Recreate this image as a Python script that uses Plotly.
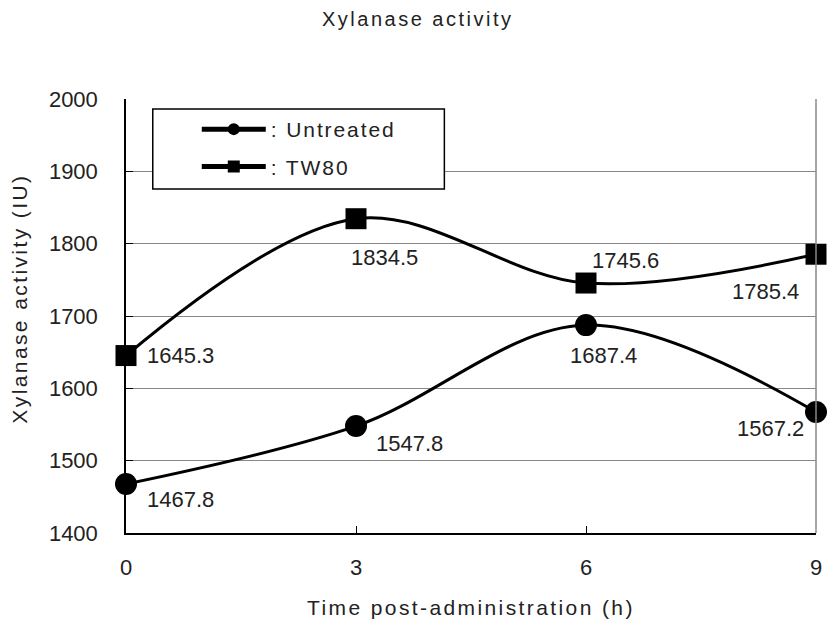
import plotly.graph_objects as go

time_h = [0, 3, 6, 9]
untreated = [1467.8, 1547.8, 1687.4, 1567.2]
tw80 = [1645.3, 1834.5, 1745.6, 1785.4]
y_ticks = [1400, 1500, 1600, 1700, 1800, 1900, 2000]

FONT = "Liberation Sans, Arial, sans-serif"
TXT = "#222222"

def spaced(s, px):
    return f'<span style="letter-spacing:{px}px">{s}</span>'

fig = go.Figure()
fig.add_trace(go.Scatter(
    x=time_h, y=untreated, name=spaced(": Untreated", 1.9), mode="lines+markers",
    legendgroup="u",
    line=dict(color="black", width=3, shape="spline", smoothing=1),
    marker=dict(symbol="circle", size=22, color="black"),
    cliponaxis=False,
))
fig.add_trace(go.Scatter(
    x=time_h, y=tw80, name=spaced(": TW80", 1.9), mode="lines+markers",
    legendgroup="t",
    line=dict(color="black", width=3, shape="spline", smoothing=1),
    marker=dict(symbol="square", size=21, color="black"),
    cliponaxis=False,
))

# label placement (xanchor, xshift, yshift) - all vertically centred
u_pos = [("left", 19, -16), ("left", 18, -17), ("center", 17, -30), ("right", -10, -16)]
t_pos = [("left", 19, 0), ("left", -7, -39), ("left", 4, 23), ("right", -15, -37)]
for series, pos in ((untreated, u_pos), (tw80, t_pos)):
    for x, y, (xa, xs, ys) in zip(time_h, series, pos):
        fig.add_annotation(x=x, y=y, text=f"{y:.1f}", showarrow=False,
                           xanchor=xa, yanchor="middle", xshift=xs, yshift=ys,
                           font=dict(size=22, color=TXT, family=FONT))

# axis titles
fig.add_annotation(xref="paper", yref="paper", x=0.5, y=0, yshift=-74,
                   xanchor="center", yanchor="middle", showarrow=False,
                   text=spaced("Time post-administration (h)", 2.4),
                   font=dict(size=21, color=TXT, family=FONT))
fig.add_annotation(xref="paper", yref="paper", x=0, xshift=-106, y=0.54,
                   xanchor="center", yanchor="middle", showarrow=False, textangle=-90,
                   text=spaced("Xylanase activity (IU)", 2.4),
                   font=dict(size=21, color=TXT, family=FONT))

# gray right border
fig.add_shape(type="line", xref="paper", yref="paper", x0=1, x1=1, y0=0, y1=1,
              line=dict(color="#888", width=1.5))
# legend box
fig.add_shape(type="rect", xref="paper", yref="paper", x0=0.0388, x1=0.4614, y0=0.7926, y1=0.977,
              line=dict(color="black", width=1.5), fillcolor="white", layer="above")

fig.update_layout(
    width=830, height=622,
    margin=dict(l=126, r=8, t=99, b=89),
    paper_bgcolor="white", plot_bgcolor="white",
    font=dict(family=FONT, color=TXT, size=22),
    title=dict(text=spaced("Xylanase activity", 2.5), x=322 / 830, xref="container", xanchor="left",
               y=0.969, yanchor="middle", font=dict(size=20, family=FONT, color=TXT)),
    showlegend=True,
    legend=dict(x=0.0388, y=0.977, xanchor="left", yanchor="top",
                bgcolor="rgba(0,0,0,0)", borderwidth=0, itemsizing="constant",
                font=dict(size=21, family=FONT, color=TXT), itemwidth=64,
                indentation=44, tracegroupgap=7),
    xaxis=dict(range=[0, 9], tickvals=time_h, ticktext=[str(t) for t in time_h],
               showgrid=False, zeroline=False, showline=True, linecolor="black", linewidth=1.5,
               ticks="inside", ticklen=7, tickcolor="black", ticklabelstandoff=14,
               tickfont=dict(size=22)),
    yaxis=dict(range=[1400, 2000], tickvals=y_ticks,
               showgrid=True, gridcolor="#888", gridwidth=1.2, zeroline=False,
               showline=True, linecolor="black", linewidth=1.5,
               ticks="inside", ticklen=7, tickcolor="black", ticklabelstandoff=22,
               tickfont=dict(size=22)),
)

fig.write_html("out.html")
